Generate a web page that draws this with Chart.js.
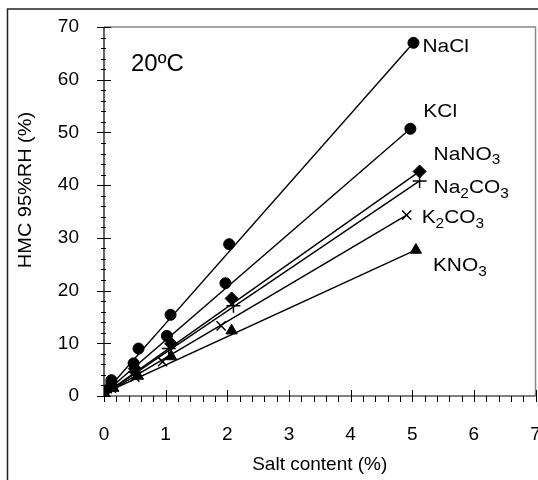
<!DOCTYPE html>
<html>
<head>
<meta charset="utf-8">
<title>HMC 95%RH vs salt content</title>
<script src="https://cdn.jsdelivr.net/npm/chart.js@4.4.0/dist/chart.umd.min.js"></script>
<style>
  html, body { margin: 0; padding: 0; background: #fff; overflow: hidden; }
  #wrap { width: 538px; height: 480px; overflow: hidden; }
</style>
</head>
<body>
<!-- canvas is a few px wider than the page so the last x label gets cut at the edge -->
<div id="wrap"><canvas id="chartHmc" width="544" height="480"></canvas></div>
<script>
// DATA: salt content (%) and HMC at 95%RH (%), 20 deg C
const salts = ['NaCl', 'KCl', 'NaNO3', 'Na2CO3', 'K2CO3', 'KNO3'];

const xNaCl   = [0, 0.12, 0.56, 1.08, 2.03, 5.02];
const yNaCl   = [1.0, 3.0, 9.0, 15.4, 28.8, 67.0];
const xKCl    = [0, 0.12, 0.48, 1.02, 1.97, 4.97];
const yKCl    = [0.8, 2.5, 6.2, 11.4, 21.4, 50.7];
const xNaNO3  = [0, 0.12, 0.50, 1.09, 2.07, 5.12];
const yNaNO3  = [0.8, 2.0, 5.2, 9.9, 18.5, 42.6];
const xNa2CO3 = [0, 0.12, 0.50, 1.05, 2.10, 5.12];
const yNa2CO3 = [0.7, 1.8, 4.5, 9.0, 17.1, 40.8];
const xK2CO3  = [0, 0.12, 0.50, 0.95, 1.90, 4.91];
const yK2CO3  = [0.6, 1.5, 3.6, 6.5, 13.3, 34.3];
const xKNO3   = [0, 0.15, 0.55, 1.09, 2.07, 5.06];
const yKNO3   = [0.6, 1.5, 3.8, 7.5, 12.4, 27.7];

// trend lines: value at x = 0, they end on the last measured point
const lineStartY = [0.5, 0.5, 0.3, 0.3, 0.3, 0.5];

const xTicks = [0, 1, 2, 3, 4, 5, 6, 7];
const yTicks = [0, 10, 20, 30, 40, 50, 60, 70];

const xs = [xNaCl, xKCl, xNaNO3, xNa2CO3, xK2CO3, xKNO3];
const ys = [yNaCl, yKCl, yNaNO3, yNa2CO3, yK2CO3, yKNO3];

// marker per salt
const markers = ['circle', 'circle', 'rectRot', 'cross', 'crossRot', 'triangle'];
const markerSize = [5.5, 5.5, 6.5, 7, 6.5, 6.5];

// label offset from the end point (px)
const labelOffset = [[9, 4], [13, -17], [14, -17], [14, 7], [15, 3], [17, 16]];

const FONT = 'Arial, "Liberation Sans", sans-serif';

const toPoints = (xArr, yArr) => xArr.map((x, i) => ({ x: x, y: yArr[i] }));

const datasets = [];
salts.forEach((name, i) => {
    const last = xs[i].length - 1;
    // trend line
    datasets.push({
        label: name + ' fit',
        data: [{ x: 0, y: lineStartY[i] }, { x: xs[i][last], y: ys[i][last] }],
        showLine: true,
        borderColor: '#000',
        borderWidth: 1.4,
        pointRadius: 0,
        order: 2
    });
    // measured points
    datasets.push({
        label: name,
        data: toPoints(xs[i], ys[i]),
        showLine: false,
        pointStyle: markers[i],
        pointRadius: markerSize[i],
        backgroundColor: '#000',
        borderColor: '#000',
        borderWidth: markers[i].startsWith('cross') ? 1.5 : 1,
        order: 1
    });
});

// draw text slightly stretched horizontally
function wideText(ctx, text, x, y, sx) {
    ctx.save();
    ctx.translate(x, y);
    ctx.scale(sx, 1);
    ctx.fillText(text, 0, 0);
    ctx.restore();
    return ctx.measureText(text).width * sx;
}

// frame, axes with crossing ticks, series labels and temperature note
const decorPlugin = {
    id: 'decor',
    beforeDraw(chart) {
        const ctx = chart.ctx;
        ctx.save();
        ctx.fillStyle = '#fff';
        ctx.fillRect(0, 0, chart.width, chart.height);
        ctx.strokeStyle = '#222';
        ctx.lineWidth = 1.5;
        ctx.strokeRect(7.5, 9, 700, 700);

        // y axis title
        ctx.fillStyle = '#000';
        ctx.font = '19px ' + FONT;
        ctx.textAlign = 'center';
        ctx.textBaseline = 'middle';
        ctx.translate(26, 190);
        ctx.rotate(-Math.PI / 2);
        wideText(ctx, 'HMC 95%RH (%)', 0, 0, 1.05);
        ctx.restore();
    },
    afterDatasetsDraw(chart) {
        const ctx = chart.ctx;
        const sx = chart.scales.x, sy = chart.scales.y;
        const a = chart.chartArea;
        ctx.save();

        // top and right border of plot area
        ctx.strokeStyle = '#888';
        ctx.lineWidth = 1.5;
        ctx.beginPath();
        ctx.moveTo(a.left, a.top);
        ctx.lineTo(a.right, a.top);
        ctx.lineTo(a.right, a.bottom);
        ctx.stroke();

        // axes
        ctx.strokeStyle = '#000';
        ctx.lineWidth = 1.2;
        ctx.beginPath();
        ctx.moveTo(a.left, a.top);
        ctx.lineTo(a.left, a.bottom);
        ctx.lineTo(a.right, a.bottom);
        ctx.stroke();

        ctx.lineWidth = 1;
        ctx.beginPath();
        // y ticks: major every 10, minor every 2
        for (let v = 0; v <= 70; v += 2) {
            const py = Math.round(sy.getPixelForValue(v)) + 0.5;
            const major = v % 10 === 0;
            ctx.moveTo(a.left - (major ? 7 : 3), py);
            ctx.lineTo(a.left + (major ? 7 : 2), py);
        }
        // x ticks: major every 1, minor every 0.2
        for (let k = 0; k <= 35; k++) {
            const px = Math.round(sx.getPixelForValue(k / 5)) + 0.5;
            const major = k % 5 === 0;
            ctx.moveTo(px, a.bottom - (major ? 6 : 0));
            ctx.lineTo(px, a.bottom + 6);
        }
        ctx.stroke();

        // series labels with subscripts
        ctx.fillStyle = '#000';
        ctx.textBaseline = 'middle';
        salts.forEach((name, i) => {
            const last = xs[i].length - 1;
            let px = sx.getPixelForValue(xs[i][last]) + labelOffset[i][0];
            const py = sy.getPixelForValue(ys[i][last]) + labelOffset[i][1];
            name.split(/(\d+)/).filter(s => s).forEach(part => {
                const sub = /^\d+$/.test(part);
                ctx.font = (sub ? 14 : 19) + 'px ' + FONT;
                px += wideText(ctx, part, px, sub ? py + 6 : py, 1.1);
            });
        });

        ctx.font = '24px ' + FONT;
        wideText(ctx, '20\u00BAC', 131, 64, 1.0);
        ctx.restore();
    }
};

new Chart(document.getElementById('chartHmc'), {
    type: 'scatter',
    data: { datasets: datasets },
    options: {
        responsive: false,
        animation: false,
        devicePixelRatio: 1,
        layout: { padding: { left: 0, top: 27, right: 0, bottom: 0 } },
        plugins: {
            legend: { display: false },
            tooltip: { enabled: false }
        },
        scales: {
            x: {
                type: 'linear',
                min: 0,
                max: 7,
                grid: { display: false },
                border: { display: false },
                afterBuildTicks(s) { s.ticks = xTicks.map(v => ({ value: v })); },
                afterFit(s) { s.height = 84; s.paddingLeft = 0; s.paddingRight = 0; },
                ticks: { color: '#000', padding: 19, font: { family: FONT, size: 19 } },
                title: {
                    display: true,
                    text: 'Salt content (%)',
                    color: '#000',
                    font: { family: FONT, size: 19 },
                    padding: { top: 0, bottom: 4 }
                }
            },
            y: {
                type: 'linear',
                min: 0,
                max: 70,
                grid: { display: false },
                border: { display: false },
                afterBuildTicks(s) { s.ticks = yTicks.map(v => ({ value: v })); },
                afterFit(s) { s.width = 104; s.paddingTop = 0; s.paddingBottom = 0; },
                ticks: { color: '#000', padding: 17, font: { family: FONT, size: 19 } },
                title: { display: false }
            }
        }
    },
    plugins: [decorPlugin]
});
</script>
</body>
</html>
